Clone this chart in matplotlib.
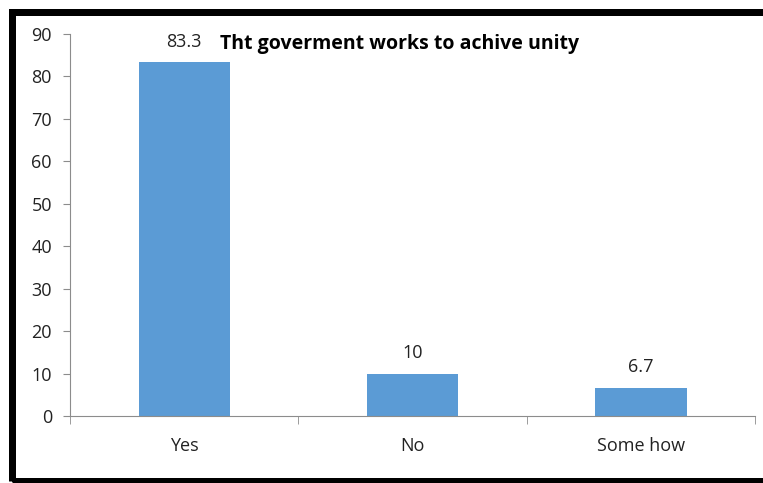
import matplotlib.pyplot as plt
from matplotlib.patches import Rectangle

categories = ['Yes', 'No', 'Some how']
values = [83.3, 10, 6.7]
value_labels = ['83.3', '10', '6.7']
title = 'Tht goverment works to achive unity'

plt.rcParams['font.family'] = ['Open Sans', 'DejaVu Sans']

W, H = 763, 483
fig = plt.figure(figsize=(W / 100, H / 100), dpi=100)
ax = fig.add_axes([70 / W, (H - 416) / H, (755 - 70) / W, (416 - 34) / H])

x = list(range(len(categories)))
ax.bar(x, values, width=0.4, color='#5B9BD5', zorder=2)
ax.set_xlim(-0.5, len(categories) - 0.5)
ax.set_ylim(0, 90)
ax.set_yticks(range(0, 91, 10))
ax.set_xticks(x)
ax.set_xticklabels(categories)
ax.set_xticks([i - 0.5 for i in range(len(categories) + 1)], minor=True)

for i, (v, lab) in enumerate(zip(values, value_labels)):
    ax.annotate(lab, (i, v), xytext=(0, 8), textcoords='offset points',
                ha='center', va='bottom', fontsize=13, color='#222222')

for s in ['top', 'right']:
    ax.spines[s].set_visible(False)
for s in ['left', 'bottom']:
    ax.spines[s].set_color('#8c8c8c')
ax.tick_params(axis='y', length=5, color='#8c8c8c', labelsize=13, pad=8, labelcolor='#222222')
ax.tick_params(axis='x', which='major', length=0, labelsize=13, pad=15, labelcolor='#222222')
ax.tick_params(axis='x', which='minor', length=6, color='#8c8c8c')

fig.text(220 / W, (H - 44) / H, title, fontsize=14, fontweight='bold', va='center', ha='left')

# black frame around the picture
lw_px = 7
fig.patches.append(Rectangle((12 / W, 2 / H), 800 / W, (H - 13.5) / H,
                             transform=fig.transFigure, fill=False,
                             edgecolor='black', linewidth=lw_px * 0.72, zorder=10))

fig.savefig('out.png', dpi=100)
